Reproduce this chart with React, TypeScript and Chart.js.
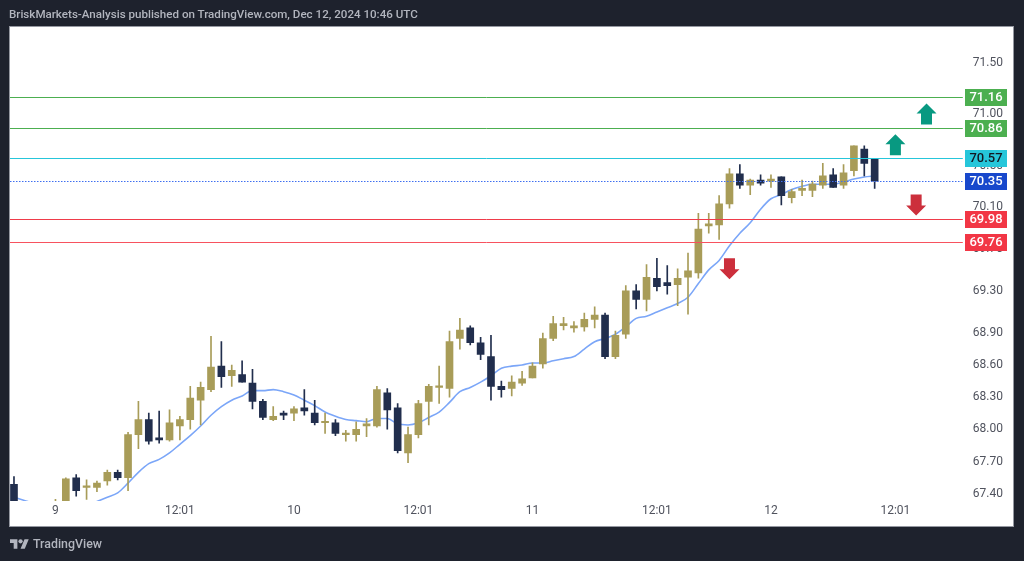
import React, { useEffect, useRef } from "react";
import { Chart, registerables } from "chart.js";

Chart.register(...registerables);

const opens = [67.49,67.29,67.20,67.18,67.26,67.30,67.55,67.46,67.46,67.52,67.60,67.55,67.95,68.09,67.92,67.90,68.03,68.09,68.27,68.37,68.59,68.50,68.51,68.43,68.26,68.09,68.15,68.15,68.20,68.15,68.06,68.06,67.95,67.95,68.03,68.03,68.34,68.20,67.78,67.95,68.26,68.39,68.38,68.85,68.95,68.81,68.68,68.40,68.38,68.43,68.48,68.61,68.85,68.97,68.95,68.96,69.03,69.07,68.68,68.89,69.30,69.22,69.42,69.38,69.36,69.43,69.47,69.92,69.93,70.13,70.42,70.31,70.36,70.35,70.39,70.19,70.26,70.26,70.31,70.41,70.31,70.45,70.66,70.56];
const highs = [67.56,67.31,67.25,67.28,67.35,67.55,67.58,67.53,67.52,67.62,67.62,67.97,68.26,68.15,68.17,68.18,68.12,68.40,68.44,68.87,68.82,68.60,68.64,68.56,68.28,68.21,68.17,68.21,68.37,68.27,68.15,68.09,67.99,68.07,68.10,68.40,68.38,68.24,68.02,68.27,68.42,68.59,68.92,69.04,68.97,68.86,68.88,68.45,68.50,68.54,68.62,68.90,69.06,69.05,69.01,69.09,69.15,69.09,68.92,69.35,69.36,69.55,69.61,69.54,69.51,69.66,70.04,70.04,70.21,70.47,70.51,70.37,70.41,70.41,70.39,70.27,70.36,70.35,70.52,70.47,70.51,70.69,70.69,70.56];
const lows = [67.24,67.15,67.10,67.12,67.20,67.25,67.38,67.35,67.42,67.48,67.53,67.43,67.82,67.86,67.87,67.89,67.90,68.00,68.04,68.35,68.39,68.40,68.44,68.19,68.09,68.08,68.09,68.08,68.13,68.04,67.96,67.94,67.89,67.89,67.93,68.02,68.00,67.78,67.69,67.92,68.04,68.24,68.30,68.75,68.79,68.65,68.27,68.30,68.31,68.41,68.48,68.57,68.83,68.93,68.91,68.92,68.95,68.66,68.66,68.85,69.13,69.11,69.30,69.27,69.16,69.08,69.42,69.85,69.79,70.09,70.28,70.22,70.31,70.29,70.12,70.14,70.21,70.20,70.28,70.29,70.28,70.40,70.40,70.28];
const closes = [67.29,67.20,67.18,67.26,67.30,67.54,67.43,67.47,67.50,67.60,67.55,67.95,68.09,67.89,67.90,68.06,68.09,68.29,68.39,68.58,68.49,68.55,68.44,68.26,68.11,68.12,68.13,68.19,68.17,68.06,68.07,67.96,67.96,68.00,68.05,68.37,68.18,67.80,67.95,68.24,68.40,68.40,68.82,68.93,68.81,68.70,68.40,68.37,68.44,68.47,68.59,68.85,68.99,68.99,68.97,69.03,69.07,68.68,68.88,69.30,69.22,69.43,69.34,69.35,69.42,69.49,69.89,69.94,70.13,70.42,70.31,70.36,70.33,70.37,70.21,70.25,70.28,70.32,70.40,70.29,70.43,70.69,70.52,70.35];
const maValues = [67.37,67.34,67.31,67.29,67.28,67.27,67.27,67.29,67.33,67.37,67.41,67.50,67.60,67.68,67.72,67.78,67.86,67.94,68.03,68.13,68.21,68.27,68.31,68.36,68.36,68.37,68.35,68.32,68.27,68.22,68.16,68.12,68.09,68.08,68.07,68.10,68.10,68.05,68.04,68.06,68.11,68.16,68.25,68.35,68.39,68.44,68.50,68.57,68.59,68.60,68.62,68.62,68.64,68.66,68.68,68.75,68.82,68.85,68.89,68.96,69.04,69.06,69.10,69.14,69.18,69.24,69.37,69.50,69.59,69.73,69.85,69.95,70.08,70.18,70.22,70.27,70.30,70.32,70.32,70.32,70.34,70.37,70.39,70.40];

const slotCount = 92;
const xTickIndex = [4, 16, 27, 39, 50, 62, 73, 85];
const xTickText = ["9", "12:01", "10", "12:01", "11", "12:01", "12", "12:01"];
const yTicks = [71.5, 71.0, 70.5, 70.1, 69.7, 69.3, 68.9, 68.6, 68.3, 68.0, 67.7, 67.4];

const levelValues = [71.16, 70.86, 70.57, 70.35, 69.98, 69.76];
const levelColors = ["#4caf50", "#4caf50", "#26c6da", "#3f6ff0", "#ef3b4a", "#f7525f"];
const tagColors = ["#4caf50", "#4caf50", "#26c6da", "#1848cc", "#f23645", "#f23645"];
const tagText = ["#ffffff", "#ffffff", "#131722", "#ffffff", "#ffffff", "#ffffff"];

const arrowSlots = [88, 85, 87, 69];
const arrowPrices = [71.0, 70.7, 70.12, 69.51];
const arrowDirs = ["up", "up", "down", "down"];

const labels: string[] = Array.from({ length: slotCount }, (_, i) => {
  const k = xTickIndex.indexOf(i);
  return k >= 0 ? xTickText[k] : "";
});

const GOLD = "#a89c58";
const NAVY = "#212e4d";
const PAGE = "#1e222d";
const FONT = "Roboto, sans-serif";

const pad = (arr: (number | null)[]) =>
  Array.from({ length: slotCount }, (_, i) => (i < arr.length ? arr[i] : null));

const panelPlugin = {
  id: "panel",
  beforeDraw(chart: any) {
    const c = chart.ctx;
    c.save();
    c.fillStyle = PAGE;
    c.fillRect(0, 0, 1024, 561);
    c.fillStyle = "#ffffff";
    c.fillRect(10, 27, 1003, 499);
    c.strokeStyle = "#9598a1";
    c.lineWidth = 1;
    c.strokeRect(9.5, 26.5, 1004, 500);
    c.restore();
  },
};

const overlayPlugin = {
  id: "overlay",
  afterDatasetsDraw(chart: any) {
    const c = chart.ctx;
    const y = chart.scales.y;
    const x = chart.scales.x;
    c.save();
    levelValues.forEach((v, i) => {
      const py = Math.floor(y.getPixelForValue(v)) + 0.5;
      c.beginPath();
      c.strokeStyle = levelColors[i];
      c.lineWidth = 1;
      c.setLineDash(i === 3 ? [1.5, 1.5] : []);
      c.moveTo(10, py);
      c.lineTo(chart.chartArea.right, py);
      c.stroke();
      c.setLineDash([]);
      c.fillStyle = tagColors[i];
      c.fillRect(965, py - 8.5, 42, 17);
      c.fillStyle = tagText[i];
      c.font = `500 13px ${FONT}`;
      c.textAlign = "center";
      c.textBaseline = "middle";
      c.fillText(v.toFixed(2), 986, py + 0.5);
    });
    arrowSlots.forEach((slot, i) => {
      const ax = x.getPixelForValue(slot);
      const ay = y.getPixelForValue(arrowPrices[i]);
      const s = arrowDirs[i] === "up" ? 1 : -1;
      c.beginPath();
      c.moveTo(ax, ay - 10.5 * s);
      c.lineTo(ax + 10, ay - 0.5 * s);
      c.lineTo(ax + 5.5, ay - 0.5 * s);
      c.lineTo(ax + 5.5, ay + 10.5 * s);
      c.lineTo(ax - 5.5, ay + 10.5 * s);
      c.lineTo(ax - 5.5, ay - 0.5 * s);
      c.lineTo(ax - 10, ay - 0.5 * s);
      c.closePath();
      c.fillStyle = s > 0 ? "#089981" : "#cc2f3c";
      c.fill();
    });
    c.restore();
  },
};

export default function App() {
  const ref = useRef<HTMLCanvasElement | null>(null);
  useEffect(() => {
    if (!ref.current) return;
    const candleColors = closes.map((cl, i) => (cl >= opens[i] ? GOLD : NAVY));
    const chart = new Chart(ref.current, {
      type: "bar",
      data: {
        labels,
        datasets: [
          {
            type: "line",
            label: "MA",
            data: pad(maValues),
            borderColor: "#7ba6f8",
            borderWidth: 1.6,
            pointRadius: 0,
            cubicInterpolationMode: "monotone",
            order: 3,
          },
          {
            type: "bar",
            label: "Wick",
            data: pad(highs.map((h, i) => [lows[i], h]) as any),
            backgroundColor: candleColors,
            barThickness: 1,
            grouped: false,
            order: 2,
          },
          {
            type: "bar",
            label: "Body",
            data: pad(opens.map((o, i) => [o, closes[i]]) as any),
            backgroundColor: candleColors,
            barThickness: 7,
            grouped: false,
            minBarLength: 1.5,
            order: 1,
          },
        ] as any,
      },
      options: {
        responsive: false,
        animation: false,
        devicePixelRatio: 1,
        layout: { padding: { left: 8.8, top: 28, right: 0, bottom: 0 } },
        plugins: { legend: { display: false }, tooltip: { enabled: false } },
        scales: {
          x: {
            type: "category",
            offset: true,
            grid: { display: false, drawTicks: false },
            border: { display: false },
            afterFit: (s: any) => {
              s.height = 60;
            },
            ticks: {
              autoSkip: false,
              maxRotation: 0,
              padding: 3,
              color: "#50535e",
              font: { family: FONT, size: 12 },
              callback: (_: any, i: number) => labels[i],
            },
          },
          y: {
            type: "logarithmic",
            position: "right",
            min: 67.335,
            max: 71.84,
            bounds: "data",
            grid: { display: false, drawTicks: false },
            border: { display: false },
            afterFit: (s: any) => {
              s.width = 61.2;
            },
            afterBuildTicks: (s: any) => {
              s.ticks = yTicks.map((value) => ({ value }));
            },
            ticks: {
              autoSkip: false,
              padding: 10,
              color: "#50535e",
              font: { family: FONT, size: 12 },
              callback: (v: any) => Number(v).toFixed(2),
            },
          },
        },
      } as any,
      plugins: [panelPlugin, overlayPlugin],
    });
    return () => chart.destroy();
  }, []);

  return (
    <div style={{ position: "fixed", left: 0, top: 0, width: 1024, height: 561, overflow: "hidden", background: PAGE }}>
      <canvas ref={ref} width={1024} height={561} style={{ display: "block" }} />
      <div
        style={{
          position: "absolute",
          left: 9,
          top: 7,
          color: "#b2b5be",
          font: `500 11.6px ${FONT}`,
          whiteSpace: "nowrap",
        }}
      >
        BriskMarkets-Analysis published on TradingView.com, Dec 12, 2024 10:46 UTC
      </div>
      <svg
        style={{ position: "absolute", left: 10, top: 537 }}
        width="19"
        height="15"
        viewBox="0 0 36 28"
        fill="#b2b5be"
      >
        <path d="M14 22H7V11H0V4h14v18zM28 22h-8l7.5-18h8L28 22z" />
        <circle cx="20" cy="8" r="4" />
      </svg>
      <div
        style={{
          position: "absolute",
          left: 33,
          top: 536,
          color: "#b2b5be",
          font: `500 12.4px ${FONT}`,
          whiteSpace: "nowrap",
        }}
      >
        TradingView
      </div>
    </div>
  );
}
